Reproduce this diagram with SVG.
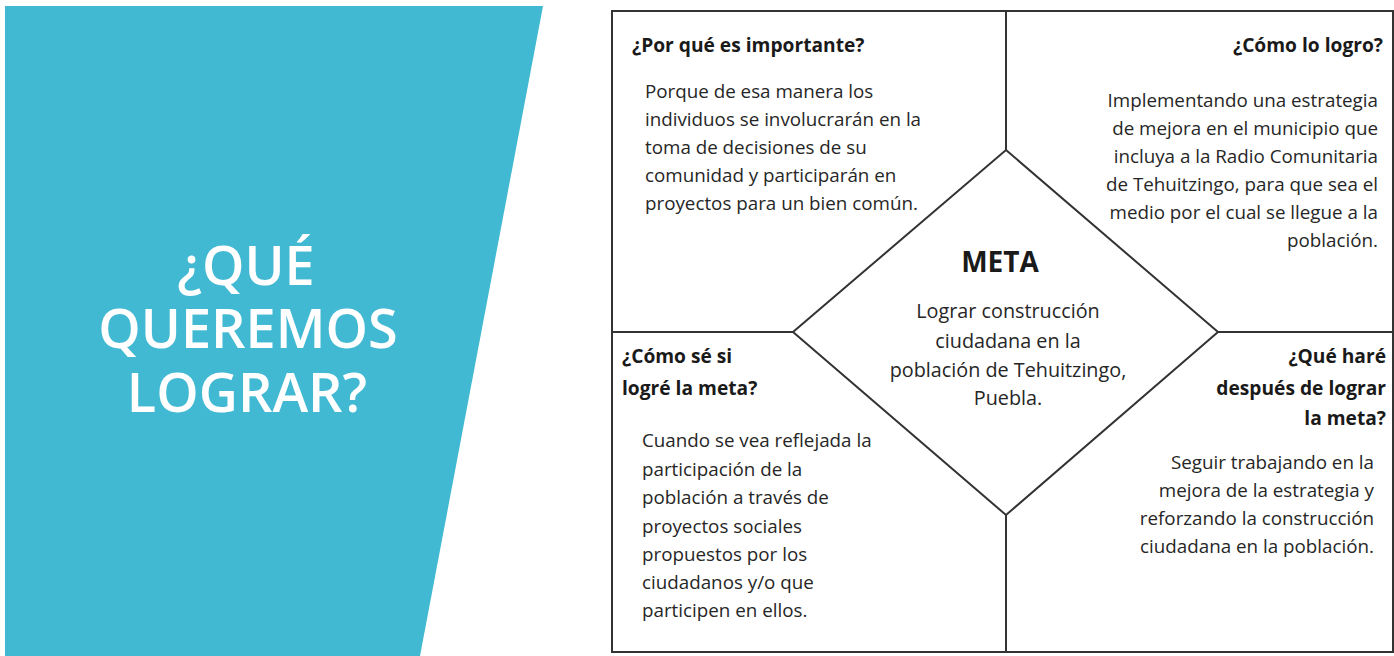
<svg xmlns="http://www.w3.org/2000/svg" width="1394" height="656" viewBox="0 0 1394 656">
<style>
.h{font-family:"Open Sans","Liberation Sans",sans-serif;font-weight:700;font-size:19.2px;fill:#1a1a1a}
.b{font-family:"Open Sans","Liberation Sans",sans-serif;font-size:18.8px;fill:#262626}
.m{font-size:19.8px}
.r{text-anchor:end}
.c{text-anchor:middle}
.ln{stroke:#333;stroke-width:2;fill:none}
.t{font-family:"Open Sans","Liberation Sans",sans-serif;font-weight:600;font-size:54px;fill:#fff;text-anchor:middle}
</style>
<rect width="1394" height="656" fill="#fff"/>
<g id="banner">
<polygon points="5,6 543,6 420,656 5,656" fill="#41b9d3"/>
<text class="t" x="246" y="285">¿QUÉ</text>
<text class="t" x="248" y="348">QUEREMOS</text>
<text class="t" x="247" y="412">LOGRAR?</text>
</g>
<g id="connectors">
<rect class="ln" x="612" y="11" width="781" height="641"/>
<line class="ln" x1="1006" y1="11" x2="1006" y2="150"/>
<line class="ln" x1="1006" y1="515" x2="1006" y2="652"/>
<line class="ln" x1="612" y1="332" x2="793" y2="332"/>
<line class="ln" x1="1218" y1="332" x2="1393" y2="332"/>
</g>
<g id="q-importante">
<text class="h" x="632" y="52">¿Por qué es importante?</text>
<text class="b" x="645" y="98">Porque de esa manera los</text>
<text class="b" x="645" y="126">individuos se involucrarán en la</text>
<text class="b" x="645" y="154">toma de decisiones de su</text>
<text class="b" x="645" y="182">comunidad y participarán en</text>
<text class="b" x="645" y="210">proyectos para un bien común.</text>
</g>
<g id="q-como">
<text class="h r" x="1383" y="52">¿Cómo lo logro?</text>
<text class="b r" x="1378" y="107">Implementando una estrategia</text>
<text class="b r" x="1378" y="135">de mejora en el municipio que</text>
<text class="b r" x="1378" y="163">incluya a la Radio Comunitaria</text>
<text class="b r" x="1378" y="191">de Tehuitzingo, para que sea el</text>
<text class="b r" x="1378" y="219">medio por el cual se llegue a la</text>
<text class="b r" x="1378" y="247">población.</text>
</g>
<g id="q-comose">
<text class="h" x="622" y="363">¿Cómo sé si</text>
<text class="h" x="622" y="395">logré la meta?</text>
<text class="b" x="642" y="447">Cuando se vea reflejada la</text>
<text class="b" x="642" y="476">participación de la</text>
<text class="b" x="642" y="504">población a través de</text>
<text class="b" x="642" y="533">proyectos sociales</text>
<text class="b" x="642" y="561">propuestos por los</text>
<text class="b" x="642" y="589">ciudadanos y/o que</text>
<text class="b" x="642" y="617">participen en ellos.</text>
</g>
<g id="q-despues">
<text class="h r" x="1386" y="363">¿Qué haré</text>
<text class="h r" x="1386" y="395">después de lograr</text>
<text class="h r" x="1386" y="425">la meta?</text>
<text class="b r" x="1374" y="469">Seguir trabajando en la</text>
<text class="b r" x="1374" y="497">mejora de la estrategia y</text>
<text class="b r" x="1374" y="525">reforzando la construcción</text>
<text class="b r" x="1374" y="553">ciudadana en la población.</text>
</g>
<g id="meta">
<polygon class="ln" points="1006,150 1218,332 1006,515 793,332" fill="#fff"/>
<text class="h c" x="1000" y="272" style="font-size:28px">META</text>
<text class="b m c" x="1008" y="318">Lograr construcción</text>
<text class="b m c" x="1008" y="348">ciudadana en la</text>
<text class="b m c" x="1008" y="377">población de Tehuitzingo,</text>
<text class="b m c" x="1008" y="405">Puebla.</text>
</g>
</svg>
